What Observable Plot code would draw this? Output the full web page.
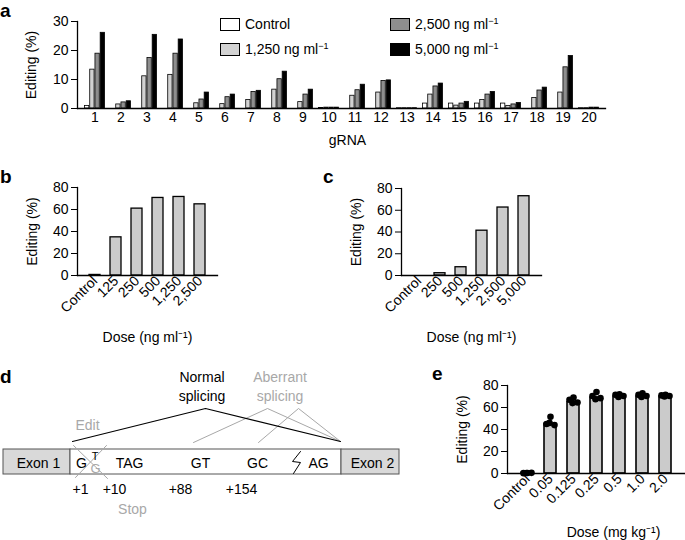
<!DOCTYPE html>
<html><head><meta charset="utf-8">
<script src="https://cdn.jsdelivr.net/npm/d3@7"></script>
<script src="https://cdn.jsdelivr.net/npm/@observablehq/plot@0.6"></script>
<style>
html,body{margin:0;padding:0;background:#fff;}
body{width:685px;height:540px;overflow:hidden;position:relative;font-family:"Liberation Sans",Arial,sans-serif;color:#000;}
.panel{position:absolute;}
.plabel{position:absolute;font-weight:bold;font-size:19px;line-height:14px;}
.leg{position:absolute;font-size:14px;height:14px;display:flex;align-items:center;white-space:nowrap;}
.sw{width:20px;height:13px;border:1px solid #000;margin-right:5px;box-sizing:border-box;}
sup{font-size:9px;vertical-align:5px;line-height:0;}
</style></head><body>
<div id="pd" class="panel" style="left:0;top:330px"></div>
<div id="pa" class="panel" style="left:0;top:0"></div>
<div id="pb" class="panel" style="left:0;top:150px"></div>
<div id="pc" class="panel" style="left:330px;top:150px"></div>
<div id="pe" class="panel" style="left:400px;top:345px"></div>
<div class="plabel" style="left:0;top:3.7px">a</div>
<div class="plabel" style="left:0;top:169.5px">b</div>
<div class="plabel" style="left:323px;top:169.5px">c</div>
<div class="plabel" style="left:0;top:369.5px">d</div>
<div class="plabel" style="left:432px;top:366.5px">e</div>
<div id="legend"></div>
<script>
// ---------- Panel a data ----------
const gRNAs = ["1","2","3","4","5","6","7","8","9","10","11","12","13","14","15","16","17","18","19","20"];
const seriesNames = ["Control", "1,250 ng ml", "2,500 ng ml", "5,000 ng ml"];
const editControl = [0.9,0,0,0,0,0,0,0,0,0.2,0,0,0.1,1.7,1.7,1.7,1.7,0,0,0.1];
const edit1250 = [13.4,1.4,11.1,11.6,1.8,1.5,2.9,6.5,2.2,0.3,4.4,5.5,0.1,4.8,1.0,2.9,0.9,3.6,5.5,0.1];
const edit2500 = [18.9,2.1,17.4,18.9,3.1,3.9,5.7,10.1,4.8,0.3,6.3,9.5,0.1,7.6,1.7,4.8,1.4,6.2,14.2,0.3];
const edit5000 = [26.1,2.5,25.4,23.8,5.5,4.8,6.1,12.7,6.5,0.3,8.2,9.7,0.1,8.6,2.3,5.7,1.9,7.2,18.1,0.3];
const aTicks = [0,10,20,30];

// ---------- Panel b data ----------
const bDoses = ["Control","125","250","500","1,250","2,500"];
const bValues = [0.5,34.7,60.8,70.5,71.4,64.7];
// ---------- Panel c data ----------
const cDoses = ["Control","250","500","1,250","2,500","5,000"];
const cValues = [0,2.1,7.6,41.2,62.5,72.9];
const bcTicks = [0,20,40,60,80];
// ---------- Panel e data ----------
const eDoses = ["Control","0.05","0.125","0.25","0.5","1.0","2.0"];
const eBars = [0.5,45,65,69,70,70,70];
const eReplicates = [
  [0.5,0.3,0.6,0.4],
  [51.5,45,44,46],
  [69,67,64.5,64],
  [74,70.5,68.5,67.5],
  [72,71.5,70.5,69.5],
  [73,71.5,70.5,69.5],
  [71.5,71,70.5,70]
];

// ---------- Panel d diagram (diagram units) ----------
const geneBoxes = [
  {part:"exon", x1:3, x2:70},
  {part:"intron", x1:70, x2:341},
  {part:"exon", x1:341, x2:399}
];
const boxTop = 119, boxBottom = 144;
const seqText = [
  {t:"Exon 1", x:38}, {t:"G", x:81}, {t:"TAG", x:129}, {t:"GT", x:200},
  {t:"GC", x:257}, {t:"AG", x:318}, {t:"Exon 2", x:372}
];
const posText = [{t:"+1", x:80}, {t:"+10", x:114}, {t:"+88", x:180}, {t:"+154", x:241}];
const splicePaths = [
  {kind:"normal", pts:[[72,111],[205,78],[340,111]]},
  {kind:"aberrant", pts:[[193,112],[267,78],[340,111]]},
  {kind:"aberrant", pts:[[258,112],[298,78],[340,111]]}
];
const crossPaths = [
  {pts:[[73,115],[107,148]]},
  {pts:[[106,115],[75,147]]}
];
const boltPath = [[300,121],[292,131],[300,132],[293,143]];

const FONT = "Liberation Sans, Arial, sans-serif";
const GREY = "#a8a8a8";
const baseStyle = {fontFamily: FONT, fontSize: "14px", color: "#000", background: "transparent", overflow: "visible"};

function yLabel(dx) {
  return Plot.text(["Editing (%)"], {frameAnchor: "left", textAnchor: "middle", lineAnchor: "middle", rotate: -90, dx, fontSize: 14});
}
function xLabel(txt, dx, dy) {
  return Plot.text([txt], {frameAnchor: "bottom", textAnchor: "middle", lineAnchor: "middle", dx, dy, fontSize: 14});
}

// ---------- Panel a ----------
{
  const W = 685, H = 150, ML = 77, MR = 80, MT = 21, MB = 42;
  const pIn = 0.2, pOut = 0.2;
  const step = (W - ML - MR) / (gRNAs.length - pIn + 2 * pOut);
  const slot = step * (1 - pIn) / 4;
  const seriesVals = [editControl, edit1250, edit2500, edit5000];
  const fills = ["#ffffff", "#d2d2d2", "#8e8e8e", "#000000"];
  const rows = gRNAs.flatMap((g, i) => seriesVals.map((vals, k) => ({gRNA: g, k, value: vals[i]})));
  const chart = Plot.plot({
    width: W, height: H, marginLeft: ML, marginRight: MR, marginTop: MT, marginBottom: MB,
    style: baseStyle,
    x: {domain: gRNAs, paddingInner: pIn, paddingOuter: pOut},
    y: {domain: [0, 30]},
    marks: [
      ...seriesVals.map((_, k) => Plot.barY(rows.filter(d => d.k === k), {
        x: "gRNA", y: "value", fill: fills[k], stroke: "#000", strokeWidth: 0.8,
        insetLeft: k * slot + 0.5, insetRight: (3 - k) * slot + 0.5
      })),
      Plot.axisY({ticks: aTicks, tickSize: 6, tickPadding: 3, label: null}),
      Plot.axisX({tickSize: 0, tickPadding: 4, label: null}),
      Plot.frame({anchor: "left", strokeWidth: 1.3}),
      Plot.frame({anchor: "bottom", strokeWidth: 1.3}),
      yLabel(-46),
      xLabel("gRNA", 6, 32)
    ]
  });
  document.getElementById("pa").append(chart);

  // legend
  const legPos = [[220, 17], [220, 42], [390, 17], [390, 42]];
  const leg = document.getElementById("legend");
  seriesNames.forEach((s, k) => {
    const d = document.createElement("div");
    d.className = "leg";
    d.style.left = legPos[k][0] + "px";
    d.style.top = legPos[k][1] + "px";
    const sw = document.createElement("div");
    sw.className = "sw";
    sw.style.background = fills[k];
    d.append(sw);
    const t = document.createElement("span");
    t.innerHTML = k === 0 ? s : s + "<sup>\u22121</sup>";
    d.append(t);
    leg.append(d);
  });
}

// ---------- Panels b, c ----------
function dosePanel(el, doses, values, ML, MR, MT) {
  const W = 230, H = 195, MB = 70;
  const chart = Plot.plot({
    width: W, height: H, marginLeft: ML, marginRight: MR, marginTop: MT, marginBottom: MB,
    style: baseStyle,
    x: {domain: doses, paddingInner: 0.5, paddingOuter: 0.536},
    y: {domain: [0, 80]},
    marks: [
      Plot.barY(values.map((v, i) => ({dose: doses[i], value: v})), {x: "dose", y: "value", fill: "#cbcbcb", stroke: "#000", strokeWidth: 1.3}),
      Plot.axisY({ticks: bcTicks, tickSize: 6, tickPadding: 3, label: null}),
      Plot.axisX({tickSize: 0, tickPadding: 3, tickRotate: -45, label: null}),
      Plot.frame({anchor: "left", strokeWidth: 1.3}),
      Plot.frame({anchor: "bottom", strokeWidth: 1.3}),
      yLabel(-45),
      xLabel("Dose (ng ml\u207B\u00B9)", 0, 62)
    ]
  });
  document.getElementById(el).append(chart);
}
dosePanel("pb", bDoses, bValues, 77, 13, 37);
dosePanel("pc", cDoses, cValues, 71, 19, 38);

// ---------- Panel d ----------
{
  const pathRows = (arr, extra) => arr.flatMap((p, i) => p.pts.map(([x, y]) => ({id: i, x, y, ...(extra ? extra(p) : {})})));
  const spl = pathRows(splicePaths, p => ({kind: p.kind}));
  const crs = pathRows(crossPaths);
  const chart = Plot.plot({
    width: 400, height: 210, margin: 0,
    style: baseStyle,
    x: {domain: [0, 400], range: [0, 400], axis: null},
    y: {domain: [0, 210], range: [0, 210], axis: null},
    marks: [
      Plot.rect(geneBoxes, {x1: "x1", x2: "x2", y1: boxTop, y2: boxBottom,
        fill: d => d.part === "exon" ? "#d9d9d9" : "#ffffff", stroke: "#555", strokeWidth: 1}),
      Plot.line(spl.filter(d => d.kind === "aberrant"), {x: "x", y: "y", z: "id", stroke: GREY, strokeWidth: 1}),
      Plot.line(spl.filter(d => d.kind === "normal"), {x: "x", y: "y", z: "id", stroke: "#000", strokeWidth: 1.1}),
      Plot.line(crs, {x: "x", y: "y", z: "id", stroke: GREY, strokeWidth: 1}),
      Plot.line(boltPath, {x: d => d[0], y: d => d[1], stroke: "#000", strokeWidth: 1}),
      Plot.text(seqText, {x: "x", y: 133, text: "t", fontSize: 14}),
      Plot.text(["T"], {x: 94.5, y: 126, fontSize: 11}),
      Plot.text(["G"], {x: 95, y: 138, fontSize: 13, fill: GREY}),
      Plot.text(posText, {x: "x", y: 159.5, text: "t", fontSize: 14}),
      Plot.text(["Stop"], {x: 132, y: 179, fontSize: 14, fill: GREY}),
      Plot.text(["Edit"], {x: 87, y: 95, fontSize: 14, fill: GREY}),
      Plot.text(["Normal", "splicing"], {x: 201.5, y: (d, i) => i === 0 ? 47 : 66, fontSize: 14}),
      Plot.text(["Aberrant", "splicing"], {x: 279.5, y: (d, i) => i === 0 ? 47 : 66, fontSize: 14, fill: GREY})
    ]
  });
  document.getElementById("pd").append(chart);
}

// ---------- Panel e ----------
{
  const W = 285, H = 195, ML = 107, MR = 0, MT = 40, MB = 67;
  const dots = eDoses.flatMap((d, i) => eReplicates[i].map((v, j) => ({dose: d, rep: j, value: v})));
  const repDx = [0, -4, 4, -1];
  const chart = Plot.plot({
    width: W, height: H, marginLeft: ML, marginRight: MR, marginTop: MT, marginBottom: MB,
    style: baseStyle,
    x: {domain: eDoses, paddingInner: 0.5, paddingOuter: 0.586},
    y: {domain: [0, 80]},
    marks: [
      Plot.barY(eBars.map((v, i) => ({dose: eDoses[i], value: v})), {x: "dose", y: "value", fill: "#cbcbcb", stroke: "#000", strokeWidth: 1.6}),
      ...repDx.map((dx, j) => Plot.dot(dots.filter(d => d.rep === j), {x: "dose", y: "value", r: 3.3, fill: "#000", stroke: "none", dx})),
      Plot.axisY({ticks: bcTicks, tickSize: 6, tickPadding: 3, label: null}),
      Plot.axisX({tickSize: 0, tickPadding: 3, tickRotate: -45, label: null}),
      Plot.frame({anchor: "left", strokeWidth: 1.3}),
      Plot.frame({anchor: "bottom", strokeWidth: 1.3}),
      yLabel(-44.5),
      xLabel("Dose (mg kg\u207B\u00B9)", 17, 59)
    ]
  });
  document.getElementById("pe").append(chart);
}
</script>
</body></html>
